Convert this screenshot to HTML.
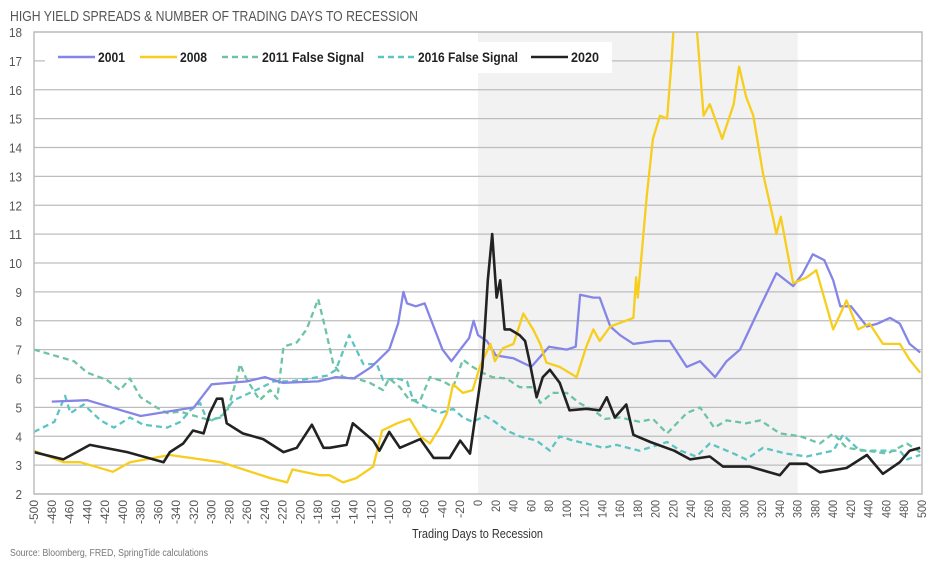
<!DOCTYPE html>
<html><head><meta charset="utf-8"><style>
body{margin:0;background:#fff;width:943px;height:567px;overflow:hidden;font-family:"Liberation Sans",sans-serif}
svg{display:block}
</style></head><body>
<svg id="chart" width="943" height="567" xmlns="http://www.w3.org/2000/svg">
<text x="10" y="21" font-size="14.5" fill="#555" textLength="408" lengthAdjust="spacingAndGlyphs">HIGH YIELD SPREADS &amp; NUMBER OF TRADING DAYS TO RECESSION</text>
<g id="bg"></g><g id="grid"></g><g id="series"></g><g id="axes"></g>
<g id="legend"></g>
<text x="412" y="538" font-size="12.5" fill="#333" textLength="131" lengthAdjust="spacingAndGlyphs">Trading Days to Recession</text>
<text x="10" y="556" font-size="10" fill="#777" textLength="198" lengthAdjust="spacingAndGlyphs">Source: Bloomberg, FRED, SpringTide calculations</text>
</svg>
<script>
const yTicks=[2,3,4,5,6,7,8,9,10,11,12,13,14,15,16,17,18];
const xTicks=[];for(let d=-500;d<=500;d+=20)xTicks.push(d);
const recessionStart=0, recessionEnd=360;
const days2001=[-480,-440,-380,-320,-300,-260,-240,-220,-180,-160,-140,-120,-100,-90,-84,-80,-70,-60,-50,-40,-30,-20,-10,-5,0,10,20,40,60,80,100,110,115,130,137,149,160,175,200,216,235,250,267,280,295,318,336,355,365,377,390,400,408,420,438,450,464,475,486,498];
const vals2001=[5.2,5.25,4.7,5.0,5.8,5.9,6.05,5.85,5.9,6.05,6.0,6.4,7.0,7.9,9.0,8.6,8.5,8.6,7.8,7.0,6.6,7.0,7.4,8.0,7.5,7.3,6.8,6.7,6.4,7.1,7.0,7.1,8.9,8.8,8.8,7.8,7.5,7.2,7.3,7.3,6.4,6.6,6.05,6.6,7.0,8.5,9.65,9.2,9.6,10.3,10.1,9.4,8.5,8.5,7.8,7.9,8.1,7.9,7.2,6.9];
const days2008=[-500,-467,-448,-411,-392,-347,-324,-290,-279,-234,-215,-209,-178,-167,-152,-137,-118,-108,-91,-77,-65,-54,-43,-35,-28,-17,-6,2,14,19,28,40,51,62,70,77,92,111,122,130,137,149,175,178,180,190,197,205,213,218,222,244,248,254,261,275,288,294,302,310,321,332,336,341,355,370,381,400,415,428,441,456,475,486,498];
const vals2008=[3.5,3.1,3.1,2.77,3.1,3.35,3.25,3.1,3.0,2.55,2.4,2.85,2.65,2.65,2.4,2.55,2.95,4.2,4.45,4.6,4.0,3.75,4.3,4.8,5.8,5.5,5.6,6.4,7.2,6.6,7.05,7.2,8.25,7.7,7.2,6.55,6.4,6.05,7.1,7.7,7.3,7.8,8.1,9.5,8.8,12.3,14.3,15.1,15.0,17.0,19,19,17.5,15.1,15.5,14.3,15.5,16.8,15.75,15.1,13.1,11.6,11.0,11.6,9.3,9.5,9.75,7.7,8.7,7.7,7.9,7.2,7.2,6.65,6.2];
const days2011=[-500,-455,-440,-418,-403,-392,-380,-362,-350,-335,-313,-300,-283,-272,-268,-261,-246,-234,-226,-219,-204,-193,-180,-171,-163,-152,-137,-122,-107,-100,-88,-77,-65,-54,-39,-28,-17,-6,5,16,32,47,62,70,84,100,114,130,143,160,182,197,213,235,250,266,280,302,318,340,363,385,400,415,438,461,483,498];
const vals2011=[7.0,6.6,6.2,5.95,5.6,6.0,5.35,5.0,4.8,4.85,4.65,4.55,4.8,5.95,6.5,6.0,5.25,5.6,5.3,7.1,7.25,7.7,8.75,7.6,6.5,6.05,6.0,5.85,5.6,6.0,5.7,5.25,5.25,6.05,5.9,5.7,6.65,6.4,6.2,6.05,6.0,5.7,5.7,5.15,5.5,5.5,5.15,4.9,4.6,4.65,4.5,4.6,4.1,4.8,5.0,4.3,4.55,4.45,4.55,4.1,4.0,3.75,4.1,3.6,3.5,3.4,3.75,3.45];
const days2016=[-500,-477,-465,-459,-444,-425,-410,-392,-377,-350,-335,-324,-313,-305,-290,-275,-250,-230,-210,-190,-170,-160,-145,-129,-114,-107,-91,-80,-73,-58,-43,-28,-17,-6,8,19,32,47,66,81,92,107,122,141,156,182,213,228,246,261,288,302,321,347,370,400,411,430,452,475,483,498];
const vals2016=[4.15,4.5,5.4,4.8,5.1,4.55,4.3,4.65,4.4,4.3,4.5,4.9,5.15,4.55,4.65,5.25,5.6,5.9,5.9,6.0,6.1,6.3,7.5,6.5,6.5,5.95,6.0,5.9,5.25,5.0,4.8,4.95,4.65,4.5,4.7,4.5,4.2,4.0,3.85,3.5,4.0,3.85,3.75,3.6,3.7,3.5,3.8,3.5,3.3,3.75,3.4,3.2,3.6,3.4,3.3,3.5,4.05,3.5,3.5,3.5,3.2,3.35];
const days2020=[-500,-467,-437,-395,-354,-347,-332,-321,-309,-302,-294,-288,-283,-265,-242,-219,-204,-187,-174,-167,-148,-141,-118,-111,-100,-88,-65,-50,-32,-20,-9,-2,5,11,16,21,25,30,36,47,53,58,66,73,81,92,103,122,137,145,154,167,175,194,221,239,261,276,306,340,351,370,385,415,438,449,456,475,486,498];
const vals2020=[3.45,3.2,3.7,3.45,3.1,3.45,3.75,4.2,4.1,4.8,5.3,5.3,4.45,4.1,3.9,3.45,3.6,4.4,3.6,3.6,3.7,4.45,3.85,3.5,4.15,3.6,3.9,3.25,3.25,3.85,3.4,4.9,6.4,9.4,11.0,8.8,9.4,7.7,7.7,7.5,7.3,6.6,5.35,6.05,6.3,5.85,4.9,4.95,4.9,5.35,4.65,5.1,4.05,3.8,3.5,3.2,3.3,2.95,2.95,2.65,3.05,3.05,2.75,2.9,3.35,2.95,2.7,3.1,3.5,3.6];

const L=34,R=922,T=32,B=494,NS="http://www.w3.org/2000/svg";
const xs=d=>L+(d+500)/1000*(R-L);
const ys=v=>B-(v-2)/16*(B-T);
function mk(tag,attrs,parent){const e=document.createElementNS(NS,tag);for(const k in attrs)e.setAttribute(k,attrs[k]);document.getElementById(parent).appendChild(e);return e;}

const clip=mk('clipPath',{id:'plotclip'},'bg');
const cr=document.createElementNS(NS,'rect');cr.setAttribute('x',L);cr.setAttribute('y',T);cr.setAttribute('width',R-L);cr.setAttribute('height',B-T);clip.appendChild(cr);

const shade=mk('rect',{x:xs(recessionStart),y:T,width:xs(recessionEnd)-xs(recessionStart),height:B-T,fill:'#f2f2f2'},'bg');



yTicks.forEach(v=>{
  const g=mk('line',{x1:L,x2:R,y1:ys(v),y2:ys(v),stroke:'#bdbdbd','stroke-width':1.3},'grid');
  
  
  const t=mk('text',{x:22,y:ys(v)+5,'text-anchor':'end','font-size':13,fill:'#555',textLength:String(v).length*6.5,lengthAdjust:'spacingAndGlyphs'},'axes');
  t.textContent=v;
  
  
});
const frame=mk('rect',{x:L,y:T,width:R-L,height:B-T,fill:'none',stroke:'#bdbdbd','stroke-width':1.5},'axes');


xTicks.forEach(d=>{
  const s=String(d);
  const t=mk('text',{transform:`translate(${xs(d)+4},${B+6}) rotate(-90)`,'text-anchor':'end','font-size':12,fill:'#555',textLength:s.length*6,lengthAdjust:'spacingAndGlyphs'},'axes');
  t.textContent=d;
  
  
});

const seriesDefs=[
 {days:days2016,vals:vals2016,color:'#5cc4c2',dash:'6,4',w:2.3,id:'2016'},
 {days:days2011,vals:vals2011,color:'#6cc4a2',dash:'6,4',w:2.3,id:'2011'},
 {days:days2001,vals:vals2001,color:'#8585e8',dash:'',w:2.3,id:'2001'},
 {days:days2008,vals:vals2008,color:'#f7cd1e',dash:'',w:2.3,id:'2008'},
 {days:days2020,vals:vals2020,color:'#222',dash:'',w:2.6,id:'2020'}
];
seriesDefs.forEach(s=>{
  const pts=s.days.map((d,i)=>xs(d).toFixed(1)+','+ys(s.vals[i]).toFixed(1)).join(' ');
  const p=mk('polyline',{points:pts,fill:'none',stroke:s.color,'stroke-width':s.w,'stroke-dasharray':s.dash,'stroke-linejoin':'round','clip-path':'url(#plotclip)'},'series');
  
  
});

const lb=mk('rect',{x:45,y:42,width:567,height:31,fill:'#fff'},'legend');


const legendItems=[['2001','#8585e8','',58,27],['2008','#f7cd1e','',140,27],['2011 False Signal','#6cc4a2','6,4',222,102],['2016 False Signal','#5cc4c2','6,4',378,100],['2020','#222','',531,28]];
legendItems.forEach(it=>{
  const ln=mk('line',{x1:it[3],x2:it[3]+37,y1:57,y2:57,stroke:it[1],'stroke-width':2.5,'stroke-dasharray':it[2]},'legend');
  
  
  const t=mk('text',{x:it[3]+40,y:62,'font-size':13.5,'font-weight':'bold',fill:'#222',textLength:it[4],lengthAdjust:'spacingAndGlyphs'},'legend');
  t.textContent=it[0];
  
  
});
</script>
</body></html>
